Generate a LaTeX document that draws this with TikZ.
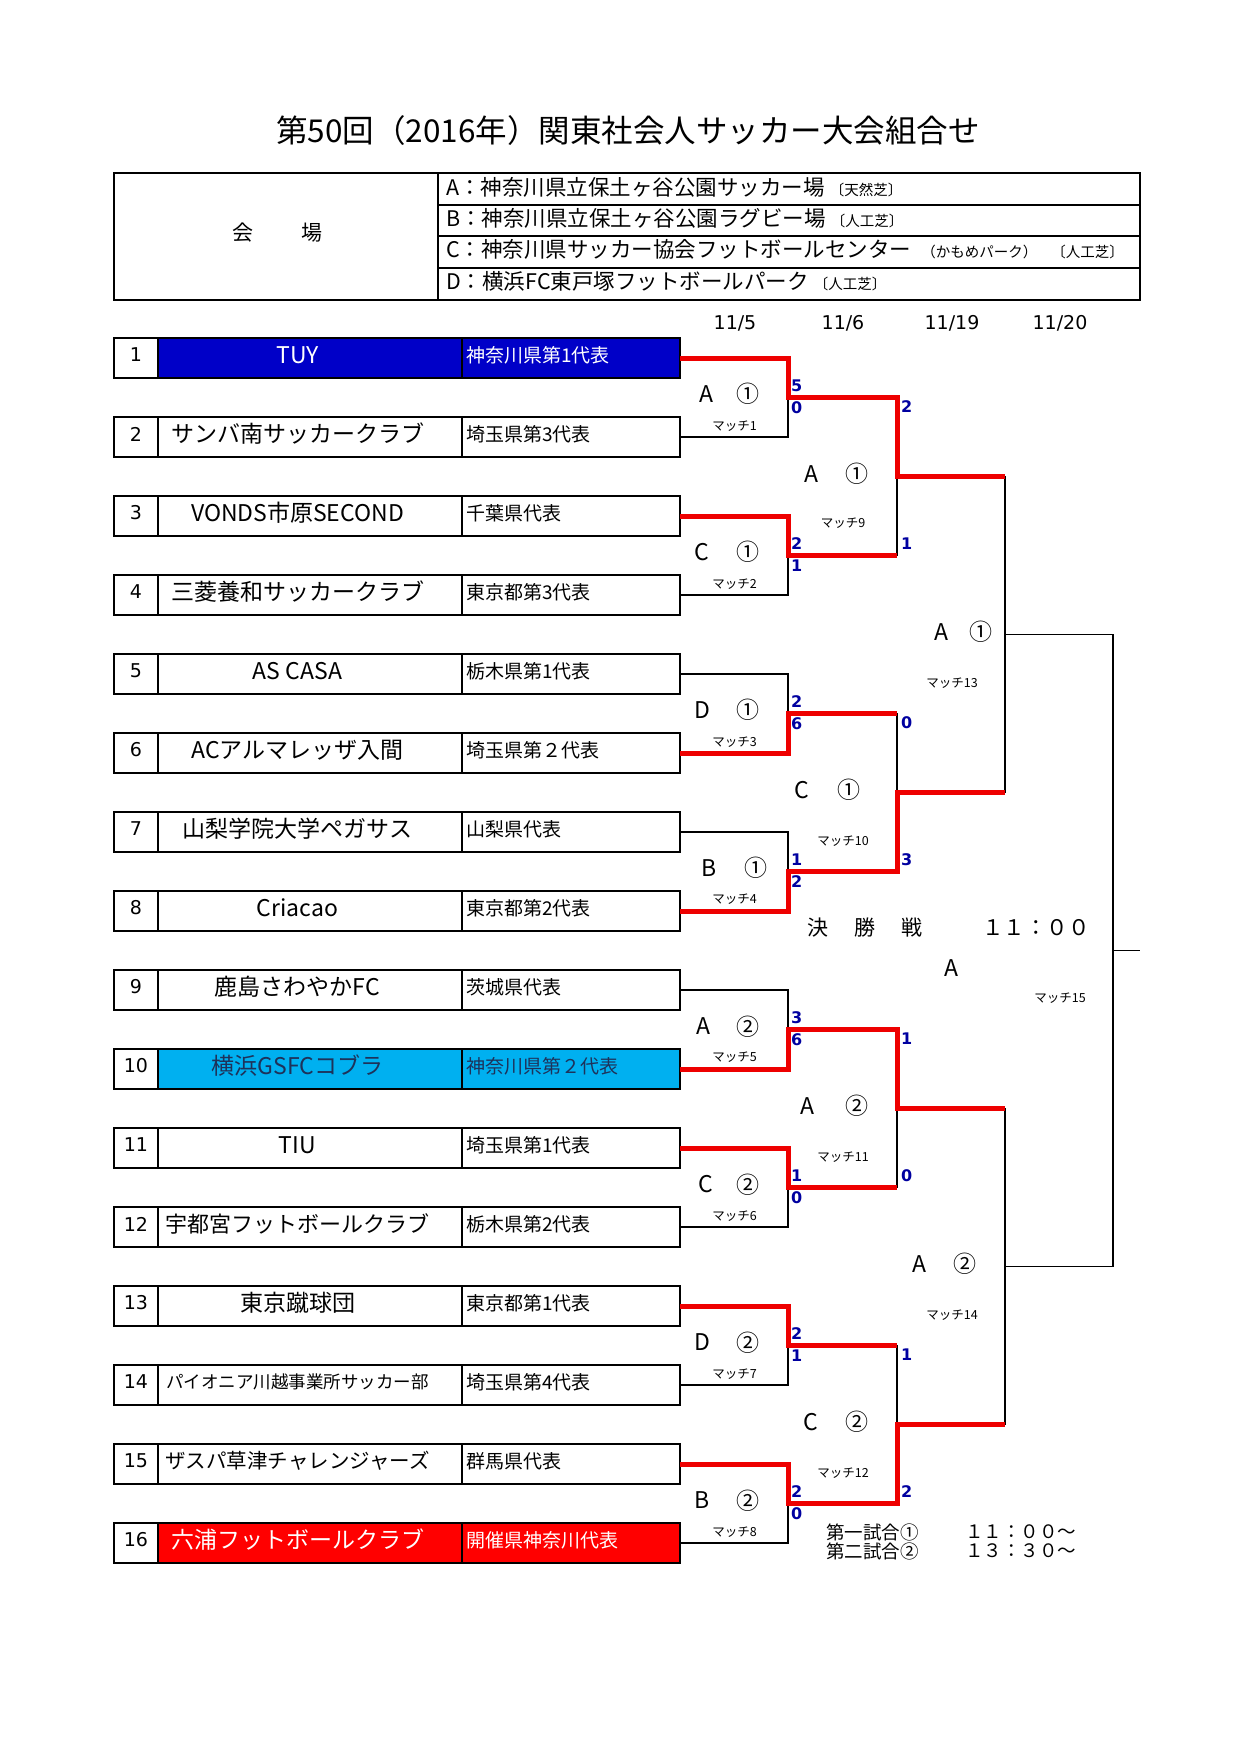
\documentclass[tikz,border=0pt]{standalone}
\usepackage{fontspec}
\setmainfont{Noto Sans CJK JP}
\newfontfamily\dvsfont{DejaVu Sans}
\newcommand\fsz[1]{\fontsize{#1pt}{#1pt}\selectfont}
\definecolor{tuyblue}{RGB}{0,0,200}
\definecolor{skyb}{RGB}{0,176,240}
\definecolor{navytxt}{RGB}{30,50,90}
\definecolor{cellred}{RGB}{255,0,0}
\definecolor{bred}{RGB}{238,0,0}
\definecolor{scoreblue}{RGB}{0,0,160}
\tikzset{
  cell/.style={draw=black, line width=1.2pt, inner sep=0pt, outer sep=0pt, minimum height=40pt},
  numcell/.style={cell, minimum width=44pt},
  teamcell/.style={cell, minimum width=304pt},
  prefcell/.style={cell, minimum width=218pt},
  numtext/.style={inner sep=0pt, font=\dvsfont\fsz{19}},
  preftext/.style={anchor=west, inner sep=0pt, font=\fsz{19}},
  outerbox/.style={line width=2.5pt},
  blk/.style={line width=1.8pt, draw=black},
  win/.style={line width=5pt, draw=bred, line join=miter},
  score/.style={text=scoreblue, font=\dvsfont\bfseries\fsz{16}, inner sep=0pt, anchor=west},
  mletter/.style={font=\fsz{23}, inner sep=0pt},
  mtag/.style={font=\fsz{12.5}, inner sep=0pt},
  vcell/.style={draw=black, line width=2pt, inner sep=0pt, outer sep=0pt, minimum width=702pt},
  vtext/.style={anchor=west, inner sep=0pt, font=\fsz{21.5}},
  vsmall/.style={font=\fsz{14.5}},
  datefont/.style={font=\dvsfont\fsz{19}, inner sep=0pt},
  infotext/.style={anchor=west, inner sep=0pt, font=\fsz{18.5}}
}
\newcommand\vsm[1]{{\fsz{14.5}#1}}
\newcommand\teamrow[6]{%
  \pgfmathsetmacro\yc{358+79*(#1-1)}%
  \pgfmathsetmacro\yt{\yc-3}%
  \node[numcell] (n#1) at (136,\yc) {};
  \node[teamcell,fill=#5] (t#1) at (310,\yc) {};
  \node[prefcell,fill=#5] (p#1) at (571,\yc) {};
  \node[numtext] (nt#1) at (136,\yt) {#1};
  \node[inner sep=0pt,text=#6,font=\fsz{#3}] (tt#1) at (297.5,\yt) {#2};
  \node[preftext,text=#6] (pt#1) at (466,\yt) {#4};
  \draw[outerbox] (n#1.north west) rectangle (p#1.south east);
}
\newcommand\mlab[8]{%
  \node[mletter] (L#1) at (#3,#6) {#2};
  \node[mletter] (C#1) at (#5,#6) {#4};
  \node[mtag] (T#1) at (#7,#8) {マッチ#1};
}
\newcommand\spair[6]{%
  \node[score] (S#1a) at (#2,#3) {#5};
  \node[score] (S#1b) at (#2,#4) {#6};
}
\begin{document}
\begin{tikzpicture}[x=1pt,y=-1pt]
\fill[white] (0,0) rectangle (1240,1754);
\useasboundingbox (0,0) rectangle (1240,1754);

% title
\node[font=\fsz{31.5}, inner sep=0pt] (title) at (628,131) {第50回（2016年）関東社会人サッカー大会組合せ};

% venue table
\node[draw=black, line width=2pt, inner sep=0pt, outer sep=0pt, minimum width=324pt, minimum height=127pt] (vlabel) at (276,236.5) {};
\node[font=\fsz{21}, inner sep=0pt] (vlabeltext) at (277.5,233) {会\hspace{48pt}場};
\node[vcell, minimum height=32pt] (va) at (789,189) {};
\node[vcell, minimum height=31pt] (vb) at (789,220.5) {};
\node[vcell, minimum height=32pt] (vc) at (789,252) {};
\node[vcell, minimum height=32pt] (vd) at (789,284) {};
\draw[outerbox] (vlabel.north west) rectangle (vd.south east);
\node[vtext] (vat) at (446,187) {A：神奈川県立保土ヶ谷公園サッカー場\hspace{5pt}\vsm{〔天然芝〕}};
\node[vtext] (vbt) at (446,218) {B：神奈川県立保土ヶ谷公園ラグビー場\hspace{5pt}\vsm{〔人工芝〕}};
\node[vtext] (vct) at (446,249) {C：神奈川県サッカー協会フットボールセンター\hspace{10pt}\vsm{（かもめパーク）\hspace{14pt}〔人工芝〕}};
\node[vtext] (vdt) at (446,281) {D：横浜FC東戸塚フットボールパーク\hspace{5pt}\vsm{〔人工芝〕}};

% dates
\node[datefont] (d1) at (735,323) {11/5};
\node[datefont] (d2) at (843,323) {11/6};
\node[datefont] (d3) at (952,323) {11/19};
\node[datefont] (d4) at (1060,323) {11/20};

% team rows
\teamrow{1}{TUY}{23}{神奈川県第1代表}{tuyblue}{white}
\teamrow{2}{サンバ南サッカークラブ}{23}{埼玉県第3代表}{white}{black}
\teamrow{3}{VONDS市原SECOND}{23}{千葉県代表}{white}{black}
\teamrow{4}{三菱養和サッカークラブ}{23}{東京都第3代表}{white}{black}
\teamrow{5}{AS CASA}{23}{栃木県第1代表}{white}{black}
\teamrow{6}{ACアルマレッザ入間}{23}{埼玉県第２代表}{white}{black}
\teamrow{7}{山梨学院大学ペガサス}{23}{山梨県代表}{white}{black}
\teamrow{8}{Criacao}{23}{東京都第2代表}{white}{black}
\teamrow{9}{鹿島さわやかFC}{23}{茨城県代表}{white}{black}
\teamrow{10}{横浜GSFCコブラ}{23}{神奈川県第２代表}{skyb}{navytxt}
\teamrow{11}{TIU}{23}{埼玉県第1代表}{white}{black}
\teamrow{12}{宇都宮フットボールクラブ}{22}{栃木県第2代表}{white}{black}
\teamrow{13}{東京蹴球団}{23}{東京都第1代表}{white}{black}
\teamrow{14}{パイオニア川越事業所サッカー部}{17.5}{埼玉県第4代表}{white}{black}
\teamrow{15}{ザスパ草津チャレンジャーズ}{20.5}{群馬県代表}{white}{black}
\teamrow{16}{六浦フットボールクラブ}{23}{開催県神奈川代表}{cellred}{white}

% bracket junctions
\coordinate (m1) at (788,397.5);
\coordinate (m2) at (788,555.5);
\coordinate (m3) at (788,713.5);
\coordinate (m4) at (788,871.5);
\coordinate (m5) at (788,1029.5);
\coordinate (m6) at (788,1187.5);
\coordinate (m7) at (788,1345.5);
\coordinate (m8) at (788,1503.5);
\coordinate (m9) at (897,476.5);
\coordinate (m10) at (897,792.5);
\coordinate (m11) at (897,1108.5);
\coordinate (m12) at (897,1424.5);
\coordinate (m13) at (1005,634.5);
\coordinate (m14) at (1005,1266.5);
\coordinate (m15) at (1113,950.5);
\coordinate (fin) at (1140,950.5);

% black bracket
\draw[blk] (p1.east) -| (m1) |- (p2.east);
\draw[blk] (p3.east) -| (m2) |- (p4.east);
\draw[blk] (p5.east) -| (m3) |- (p6.east);
\draw[blk] (p7.east) -| (m4) |- (p8.east);
\draw[blk] (p9.east) -| (m5) |- (p10.east);
\draw[blk] (p11.east) -| (m6) |- (p12.east);
\draw[blk] (p13.east) -| (m7) |- (p14.east);
\draw[blk] (p15.east) -| (m8) |- (p16.east);
\draw[blk] (m1) -| (m9) |- (m2);
\draw[blk] (m3) -| (m10) |- (m4);
\draw[blk] (m5) -| (m11) |- (m6);
\draw[blk] (m7) -| (m12) |- (m8);
\draw[blk] (m9) -| (m13) |- (m10);
\draw[blk] (m11) -| (m14) |- (m12);
\draw[blk] (m13) -| (m15) |- (m14);
\draw[blk] (m15) -- (fin);

% winners
\draw[win] (p1.east) -| (m1) -| (m9) -- (m9 -| m13);
\draw[win] (p3.east) -| (m2) -- (m2 -| m9);
\draw[win] (p6.east) -| (m3) -- (m3 -| m10);
\draw[win] (p8.east) -| (m4) -| (m10) -- (m10 -| m13);
\draw[win] (p10.east) -| (m5) -| (m11) -- (m11 -| m14);
\draw[win] (p11.east) -| (m6) -- (m6 -| m11);
\draw[win] (p13.east) -| (m7) -- (m7 -| m12);
\draw[win] (p15.east) -| (m8) -| (m12) -- (m12 -| m14);

% scores round 1
\spair{1}{791}{385.5}{408}{5}{0}
\spair{2}{791}{543.5}{566}{2}{1}
\spair{3}{791}{701.5}{724}{2}{6}
\spair{4}{791}{859.5}{882}{1}{2}
\spair{5}{791}{1017.5}{1040}{3}{6}
\spair{6}{791}{1175.5}{1198}{1}{0}
\spair{7}{791}{1333.5}{1356}{2}{1}
\spair{8}{791}{1491.5}{1514}{2}{0}
% scores round 2
\spair{9}{901}{406.5}{544}{2}{1}
\spair{10}{901}{722.5}{860}{0}{3}
\spair{11}{901}{1038.5}{1176}{1}{0}
\spair{12}{901}{1354.5}{1492}{1}{2}

% match labels
\mlab{1}{A}{706}{①}{748}{394}{734.5}{426}
\mlab{2}{C}{702}{①}{748}{552}{734.5}{584}
\mlab{3}{D}{702}{①}{748}{710}{734.5}{742}
\mlab{4}{B}{709}{①}{756}{868}{734.5}{899}
\mlab{5}{A}{703}{②}{748}{1026.5}{734.5}{1057}
\mlab{6}{C}{706}{②}{748}{1184.5}{734.5}{1216}
\mlab{7}{D}{702}{②}{748}{1342.5}{734.5}{1374}
\mlab{8}{B}{702}{②}{748}{1500.5}{734.5}{1532}
\mlab{9}{A}{811}{①}{856.5}{474}{843}{523}
\mlab{10}{C}{802}{①}{849}{790}{843}{841}
\mlab{11}{A}{807}{②}{856.5}{1106}{843}{1157}
\mlab{12}{C}{811}{②}{856.5}{1422}{843}{1473}
\mlab{13}{A}{941.5}{①}{980.5}{632}{952}{683}
\mlab{14}{A}{919}{②}{965}{1264}{952}{1315}
\node[mletter] (L15) at (951,968) {A};
\node[mtag] (T15) at (1060,998) {マッチ15};

% final info
\node[font=\fsz{21}, inner sep=0pt] (kessho) at (865,928) {決\hspace{26pt}勝\hspace{26pt}戦};
\node[font=\fsz{21.5}, inner sep=0pt] (ktime) at (1036,928) {１１：００};
\node[infotext] (info1) at (826,1532) {第一試合①};
\node[infotext] (info2) at (826,1551) {第二試合②};
\node[infotext] (time1) at (965,1532) {１１：００～};
\node[infotext] (time2) at (965,1551) {１３：３０～};
\end{tikzpicture}
\end{document}
